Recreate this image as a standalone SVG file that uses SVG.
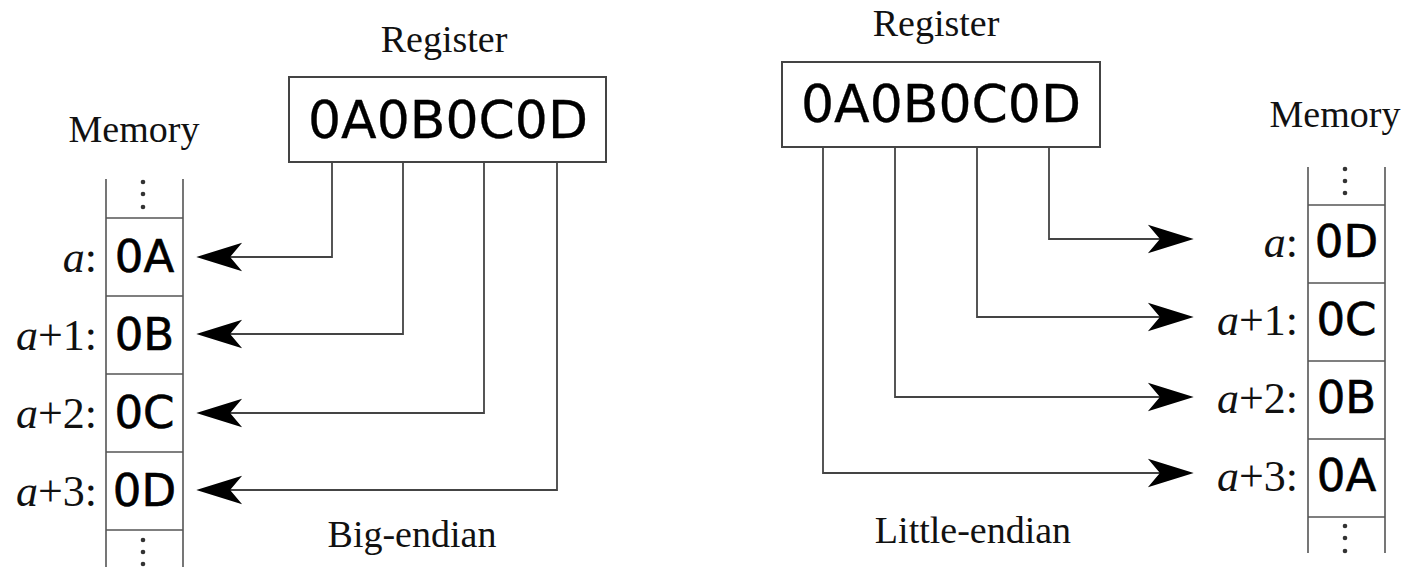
<svg xmlns="http://www.w3.org/2000/svg" width="1410" height="567" viewBox="0 0 1410 567">
<defs>
<style>
.serif{font-family:"Liberation Serif","DejaVu Serif",serif;fill:#111}
.lbl{font-size:38px;text-anchor:middle}
.addr{font-size:44px;text-anchor:end}
.hex{font-family:"DejaVu Sans",sans-serif;fill:#000;text-anchor:middle}
.cell{font-size:45px;stroke:#000;stroke-width:0.6}
.reg{font-size:52px;stroke:#000;stroke-width:0.3}
.box{fill:#fff;stroke:#444;stroke-width:2}
.col{stroke:#555;stroke-width:1.6;fill:none}
.conn{stroke:#444;stroke-width:1.8;fill:none;marker-end:url(#arr)}
.dot{fill:#333}
</style>
<marker id="arr" markerUnits="userSpaceOnUse" markerWidth="60" markerHeight="40" viewBox="-40 -15 55 30" refX="0" refY="0" orient="auto" overflow="visible">
<path d="M8,0 L-34,-13 L-23,0 L-34,13 Z" fill="#000"/>
</marker>
</defs>
<rect width="1410" height="567" fill="#fff"/>

<g id="big-endian-register">
<text class="serif lbl" x="444" y="52">Register</text>
<rect class="box" x="289" y="77" width="317" height="85"/>
<text class="hex reg" x="448" y="138">0A0B0C0D</text>
</g>

<g id="big-endian-memory">
<text class="serif lbl" x="134" y="142">Memory</text>
<path class="col" d="M106,179 V567 M183,179 V567 M106,218 H183 M106,296 H183 M106,374 H183 M106,452 H183 M106,530 H183"/>
<circle class="dot" cx="143" cy="182" r="2.3"/><circle class="dot" cx="143" cy="194" r="2.3"/><circle class="dot" cx="143" cy="207" r="2.3"/>
<circle class="dot" cx="143" cy="540" r="2.3"/><circle class="dot" cx="143" cy="552" r="2.3"/><circle class="dot" cx="143" cy="564" r="2.3"/>
<text class="hex cell" x="144.5" y="272">0A</text>
<text class="hex cell" x="144.5" y="350">0B</text>
<text class="hex cell" x="144.5" y="428">0C</text>
<text class="hex cell" x="144.5" y="506">0D</text>
<text class="serif addr" x="97" y="272"><tspan font-style="italic">a</tspan>:</text>
<text class="serif addr" x="97" y="350"><tspan font-style="italic">a</tspan>+1:</text>
<text class="serif addr" x="97" y="428"><tspan font-style="italic">a</tspan>+2:</text>
<text class="serif addr" x="97" y="506"><tspan font-style="italic">a</tspan>+3:</text>
<text class="serif lbl" x="412" y="547">Big-endian</text>
</g>

<g id="little-endian-register">
<text class="serif lbl" x="936" y="36">Register</text>
<rect class="box" x="782" y="62" width="318" height="85"/>
<text class="hex reg" x="941" y="122">0A0B0C0D</text>
</g>

<g id="little-endian-memory">
<text class="serif lbl" x="1335" y="127">Memory</text>
<path class="col" d="M1308,167 V553 M1385,167 V553 M1308,205 H1385 M1308,283 H1385 M1308,361 H1385 M1308,439 H1385 M1308,517 H1385"/>
<circle class="dot" cx="1345" cy="169" r="2.3"/><circle class="dot" cx="1345" cy="181" r="2.3"/><circle class="dot" cx="1345" cy="193" r="2.3"/>
<circle class="dot" cx="1345" cy="526" r="2.3"/><circle class="dot" cx="1345" cy="538" r="2.3"/><circle class="dot" cx="1345" cy="551" r="2.3"/>
<text class="hex cell" x="1346.5" y="257">0D</text>
<text class="hex cell" x="1346.5" y="335">0C</text>
<text class="hex cell" x="1346.5" y="413">0B</text>
<text class="hex cell" x="1346.5" y="491">0A</text>
<text class="serif addr" x="1298" y="257"><tspan font-style="italic">a</tspan>:</text>
<text class="serif addr" x="1298" y="335"><tspan font-style="italic">a</tspan>+1:</text>
<text class="serif addr" x="1298" y="413"><tspan font-style="italic">a</tspan>+2:</text>
<text class="serif addr" x="1298" y="491"><tspan font-style="italic">a</tspan>+3:</text>
<text class="serif lbl" x="973" y="543">Little-endian</text>
</g>

<g id="connectors">
<path class="conn" d="M332,162 V257 H205"/>
<path class="conn" d="M403,162 V334 H205"/>
<path class="conn" d="M484,162 V413 H205"/>
<path class="conn" d="M557,162 V490 H205"/>
<path class="conn" d="M1049,147 V239 H1185"/>
<path class="conn" d="M977,147 V317 H1185"/>
<path class="conn" d="M895,147 V397 H1185"/>
<path class="conn" d="M823,147 V473 H1185"/>
</g>
</svg>
